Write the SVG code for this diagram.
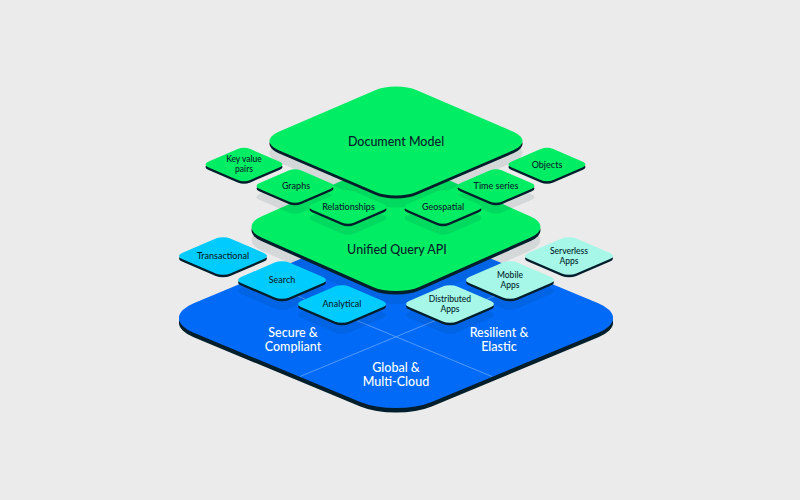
<svg xmlns="http://www.w3.org/2000/svg" xmlns:xlink="http://www.w3.org/1999/xlink" width="800" height="500" viewBox="0 0 800 500">
<defs>
<style>
.bg{fill:#ebebeb}
.edge{fill:#001e2b}
.shadow{fill:#001e2b;fill-opacity:0.09}
.blue{fill:#016bf8}
.green{fill:#00ed64}
.cyan{fill:#00cbff}
.mint{fill:#a6f7e8}
.grid{stroke:#6ea8ff;stroke-opacity:0.75;stroke-width:1;fill:none}
text{font-family:"Lato","Liberation Sans",sans-serif;font-weight:500;text-anchor:middle;fill:#001e2b}
.big{font-size:12.5px}
.small{font-size:9px}
.two{font-size:8.5px}
.base{font-size:12.5px;fill:#ffffff}
</style>
<rect id="sq" x="-50" y="-50" width="100" height="100" rx="15" ry="15"/>
</defs>
<rect class="bg" x="0" y="0" width="800" height="500"/>

<g id="base">
<use xlink:href="#sq" class="edge" transform="translate(0,4.5) matrix(2.38 0.987 -2.38 0.987 396 318)"/>
<use xlink:href="#sq" class="blue" transform="matrix(2.38 0.987 -2.38 0.987 396 318)"/>
<text class="base" x="293" y="337">Secure &amp;</text>
<text class="base" x="293" y="351">Compliant</text>
<text class="base" x="499" y="337">Resilient &amp;</text>
<text class="base" x="499" y="351">Elastic</text>
<text class="base" x="396" y="372">Global &amp;</text>
<text class="base" x="396" y="386">Multi-Cloud</text>
</g>

<g id="connectors">
<line class="grid" x1="300" y1="376.5" x2="538" y2="278"/>
<line class="grid" x1="492" y1="376.5" x2="254" y2="278"/>
</g>

<g id="unified-query-api">
<use xlink:href="#sq" class="shadow" transform="translate(0,13) matrix(1.584 0.702 -1.584 0.702 396 227)"/>
<use xlink:href="#sq" class="edge" transform="translate(0,3.5) matrix(1.584 0.702 -1.584 0.702 396 227)"/>
<use xlink:href="#sq" class="green" transform="matrix(1.584 0.702 -1.584 0.702 396 227)"/>
<text class="big" x="397" y="254">Unified Query API</text>
</g>

<g id="transactional">
<use xlink:href="#sq" class="edge" transform="translate(0,2.5) matrix(0.482 0.205 -0.482 0.205 223 256)"/>
<use xlink:href="#sq" class="cyan" transform="matrix(0.482 0.205 -0.482 0.205 223 256)"/>
<text class="small" x="223" y="259.3">Transactional</text>
</g>
<g id="search">
<use xlink:href="#sq" class="shadow" transform="translate(0,11) matrix(0.482 0.205 -0.482 0.205 282 280)"/>
<use xlink:href="#sq" class="edge" transform="translate(0,2.5) matrix(0.482 0.205 -0.482 0.205 282 280)"/>
<use xlink:href="#sq" class="cyan" transform="matrix(0.482 0.205 -0.482 0.205 282 280)"/>
<text class="small" x="282" y="283.3">Search</text>
</g>
<g id="analytical">
<use xlink:href="#sq" class="shadow" transform="translate(0,11) matrix(0.482 0.205 -0.482 0.205 342 304)"/>
<use xlink:href="#sq" class="edge" transform="translate(0,2.5) matrix(0.482 0.205 -0.482 0.205 342 304)"/>
<use xlink:href="#sq" class="cyan" transform="matrix(0.482 0.205 -0.482 0.205 342 304)"/>
<text class="small" x="342" y="307.3">Analytical</text>
</g>
<g id="serverless-apps">
<use xlink:href="#sq" class="edge" transform="translate(0,2.5) matrix(0.482 0.205 -0.482 0.205 569 256)"/>
<use xlink:href="#sq" class="mint" transform="matrix(0.482 0.205 -0.482 0.205 569 256)"/>
<text class="two" x="569" y="253.5">Serverless</text>
<text class="two" x="569" y="263.5">Apps</text>
</g>
<g id="mobile-apps">
<use xlink:href="#sq" class="shadow" transform="translate(0,11) matrix(0.482 0.205 -0.482 0.205 510 280)"/>
<use xlink:href="#sq" class="edge" transform="translate(0,2.5) matrix(0.482 0.205 -0.482 0.205 510 280)"/>
<use xlink:href="#sq" class="mint" transform="matrix(0.482 0.205 -0.482 0.205 510 280)"/>
<text class="two" x="510" y="277.5">Mobile</text>
<text class="two" x="510" y="287.5">Apps</text>
</g>
<g id="distributed-apps">
<use xlink:href="#sq" class="shadow" transform="translate(0,11) matrix(0.482 0.205 -0.482 0.205 450 304)"/>
<use xlink:href="#sq" class="edge" transform="translate(0,2.5) matrix(0.482 0.205 -0.482 0.205 450 304)"/>
<use xlink:href="#sq" class="mint" transform="matrix(0.482 0.205 -0.482 0.205 450 304)"/>
<text class="two" x="450" y="301.5">Distributed</text>
<text class="two" x="450" y="311.5">Apps</text>
</g>

<g id="document-model">
<use xlink:href="#sq" class="shadow" transform="translate(0,12) matrix(1.387 0.598 -1.387 0.598 396 141)"/>
<use xlink:href="#sq" class="edge" transform="translate(0,3) matrix(1.387 0.598 -1.387 0.598 396 141)"/>
<use xlink:href="#sq" class="green" transform="matrix(1.387 0.598 -1.387 0.598 396 141)"/>
<text class="big" x="396" y="146">Document Model</text>
</g>

<g id="key-value-pairs">
<use xlink:href="#sq" class="edge" transform="translate(0,2.5) matrix(0.422 0.181 -0.422 0.181 244 164.5)"/>
<use xlink:href="#sq" class="green" transform="matrix(0.422 0.181 -0.422 0.181 244 164.5)"/>
<text class="two" x="244" y="162">Key value</text>
<text class="two" x="244" y="172">pairs</text>
</g>
<g id="graphs">
<use xlink:href="#sq" class="shadow" transform="translate(0,11) matrix(0.422 0.181 -0.422 0.181 295 186)"/>
<use xlink:href="#sq" class="edge" transform="translate(0,2.5) matrix(0.422 0.181 -0.422 0.181 295 186)"/>
<use xlink:href="#sq" class="green" transform="matrix(0.422 0.181 -0.422 0.181 295 186)"/>
<text class="small" x="296" y="189.3">Graphs</text>
</g>
<g id="relationships">
<use xlink:href="#sq" class="shadow" transform="translate(0,11) matrix(0.422 0.181 -0.422 0.181 348 207)"/>
<use xlink:href="#sq" class="edge" transform="translate(0,2.5) matrix(0.422 0.181 -0.422 0.181 348 207)"/>
<use xlink:href="#sq" class="green" transform="matrix(0.422 0.181 -0.422 0.181 348 207)"/>
<text class="small" x="348.5" y="210.3">Relationships</text>
</g>
<g id="objects">
<use xlink:href="#sq" class="edge" transform="translate(0,2.5) matrix(0.422 0.181 -0.422 0.181 547 164.5)"/>
<use xlink:href="#sq" class="green" transform="matrix(0.422 0.181 -0.422 0.181 547 164.5)"/>
<text class="small" x="547" y="168">Objects</text>
</g>
<g id="time-series">
<use xlink:href="#sq" class="shadow" transform="translate(0,11) matrix(0.422 0.181 -0.422 0.181 496 186)"/>
<use xlink:href="#sq" class="edge" transform="translate(0,2.5) matrix(0.422 0.181 -0.422 0.181 496 186)"/>
<use xlink:href="#sq" class="green" transform="matrix(0.422 0.181 -0.422 0.181 496 186)"/>
<text class="small" x="496" y="189.3">Time series</text>
</g>
<g id="geospatial">
<use xlink:href="#sq" class="shadow" transform="translate(0,11) matrix(0.422 0.181 -0.422 0.181 443 207)"/>
<use xlink:href="#sq" class="edge" transform="translate(0,2.5) matrix(0.422 0.181 -0.422 0.181 443 207)"/>
<use xlink:href="#sq" class="green" transform="matrix(0.422 0.181 -0.422 0.181 443 207)"/>
<text class="small" x="443" y="210.3">Geospatial</text>
</g>
</svg>
